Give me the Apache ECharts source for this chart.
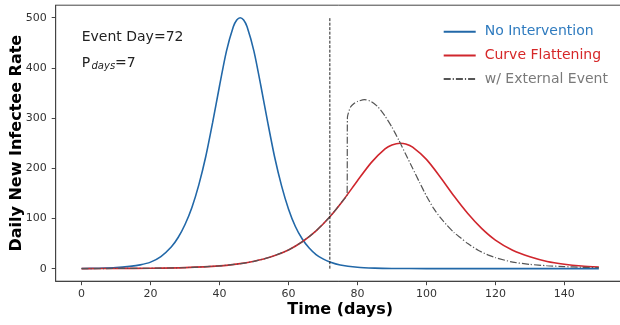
<!DOCTYPE html>
<html>
<head>
<meta charset="utf-8">
<script src="https://cdn.jsdelivr.net/npm/echarts@6/dist/echarts.min.js"></script>
<style>
  html, body {margin: 0; padding: 0; background: #fff;}
  #chart {width: 620px; height: 325px;}
</style>
</head>
<body>
<div id="chart"></div>
<script>
// values
const xTicks = [0, 20, 40, 60, 80, 100, 120, 140];
const yTicks = [0, 100, 200, 300, 400, 500];
const eventDay = 72;
const pDays = 7;
const eventLineTop = 500;

const noIntDays = [0, 5, 10, 14, 17, 20, 23, 26, 28, 30, 32, 34, 36, 38, 40, 42, 44, 45, 46, 47, 48, 50, 52, 54, 56, 58, 60, 62, 64, 66, 68, 70, 72, 75, 80, 85, 90, 100, 120, 150];
const noIntRate = [0.3, 0.8, 2, 4.5, 7.5, 13, 24, 43, 62, 88, 122, 167, 223, 291, 364, 433, 482, 495.5, 500, 495.5, 482, 433, 364, 291, 222, 165, 119, 84, 59, 41, 28, 19.5, 13.3, 7.3, 2.8, 1.1, 0.4, 0.06, 0, 0];

const flatDays = [0, 10, 20, 30, 40, 46, 50, 55, 60, 64, 68, 72, 76, 80, 84, 88, 90, 92.4, 94, 96, 100, 104, 108, 112, 116, 120, 125, 130, 135, 140, 145, 150];
const flatRate = [0.1, 0.3, 0.8, 2.1, 5.5, 10, 14.6, 23.5, 37.3, 53.6, 75.3, 103.4, 137.5, 175.2, 211.3, 238.5, 246.5, 250, 248.5, 242.2, 217.7, 182.8, 144.7, 109.9, 80.3, 57, 36.7, 23.6, 14.3, 8.9, 5.4, 3.3];

const extDays = [0, 10, 20, 30, 40, 46, 50, 55, 60, 64, 68, 72, 76, 77, 77.1, 78, 79, 80, 82, 84, 86, 88, 90, 92, 94, 96, 98, 100, 102, 104, 106, 108, 110, 112, 115, 118, 120, 125, 130, 135, 140, 145, 150];
const extRate = [0.1, 0.3, 0.8, 2.1, 5.5, 10, 14.6, 23.5, 37.3, 53.6, 75.3, 103.4, 137.5, 146, 302, 322, 329, 333, 337, 333, 322, 304, 282, 256, 228, 200, 172, 145, 121, 102, 86, 72, 61, 50, 36.5, 27, 22, 13, 8.5, 5.8, 4, 2.8, 2];

const pairs = (xs, ys) => xs.map((x, i) => [x, ys[i]]);

const font = 'DejaVu Sans';
const blue = '#2268a8', red = '#d0262d', grey = '#555555';

const chart = echarts.init(document.getElementById('chart'));

const axisCommon = {
    type: 'value',
    nameLocation: 'middle',
    nameMoveOverlap: false,
    nameTextStyle: {fontSize: 16, fontWeight: 'bold', color: '#000', fontFamily: font},
    splitLine: {show: false},
    axisLine: {show: true, onZero: false, lineStyle: {color: '#444', width: 1}},
};

chart.setOption({
    animation: false,
    textStyle: {fontFamily: font},
    grid: {
        left: 55.7, top: 5.2, right: -4.7, bottom: 43.8,
        outerBoundsMode: 'none', containLabel: false,
        show: true, borderColor: '#444', borderWidth: 1
    },
    legend: {
        orient: 'vertical',
        left: 442.7,
        top: 24.7,
        padding: 0,
        itemWidth: 32,
        itemHeight: 14,
        itemGap: 9.7,
        itemStyle: {opacity: 0},
        selectedMode: false,
        textStyle: {fontSize: 14, fontFamily: font, padding: [0, 0, 0, 4]},
        data: [
            {name: 'No Intervention', textStyle: {color: '#2f7bbf'}},
            {name: 'Curve Flattening', textStyle: {color: '#d62728'}},
            {name: 'w/ External Event', textStyle: {color: '#7a7a7a'}}
        ]
    },
    xAxis: {
        ...axisCommon,
        min: -7.5,
        max: 157.5,
        name: 'Time (days)',
        nameGap: 21,
        axisTick: {show: true, length: 4, customValues: xTicks, lineStyle: {color: '#444'}},
        axisLabel: {customValues: xTicks, fontSize: 11, color: '#333', margin: 7, fontFamily: font}
    },
    yAxis: {
        ...axisCommon,
        min: -25,
        max: 525,
        name: 'Daily New Infectee Rate',
        nameGap: 31,
        axisTick: {show: true, length: 4, customValues: yTicks, lineStyle: {color: '#444'}},
        axisLabel: {customValues: yTicks, fontSize: 11, color: '#333', margin: 9, fontFamily: font}
    },
    graphic: [
        {type: 'text', left: 81.7, top: 30.5, style: {text: 'Event Day=' + eventDay, fontSize: 14, fill: '#222', fontFamily: font}},
        {type: 'text', left: 81.7, top: 56, style: {text: 'P', fontSize: 14, fill: '#222', fontFamily: font}},
        {type: 'text', left: 91.5, top: 61.5, style: {text: 'days', fontSize: 10, fontStyle: 'italic', fill: '#222', fontFamily: font}},
        {type: 'text', left: 115, top: 56, style: {text: '=' + pDays, fontSize: 14, fill: '#222', fontFamily: font}}
    ],
    series: [
        {
            name: 'No Intervention',
            type: 'line',
            data: pairs(noIntDays, noIntRate),
            symbol: 'none',
            smooth: 0.25,
            itemStyle: {color: blue},
            lineStyle: {color: blue, width: 1.6},
            z: 2
        },
        {
            name: 'Curve Flattening',
            type: 'line',
            data: pairs(flatDays, flatRate),
            symbol: 'none',
            smooth: 0.25,
            itemStyle: {color: red},
            lineStyle: {color: red, width: 1.6},
            z: 3
        },
        {
            name: 'w/ External Event',
            type: 'line',
            data: pairs(extDays, extRate),
            symbol: 'none',
            smooth: 0.2,
            itemStyle: {color: grey},
            lineStyle: {color: grey, width: 1.2, type: [7, 2, 1.2, 2]},
            z: 4
        },
        {
            name: 'event',
            type: 'line',
            data: [[eventDay, 0], [eventDay, eventLineTop]],
            symbol: 'none',
            lineStyle: {color: '#222', width: 1, type: [3, 1.5]},
            z: 5
        }
    ]
});
</script>
</body>
</html>
